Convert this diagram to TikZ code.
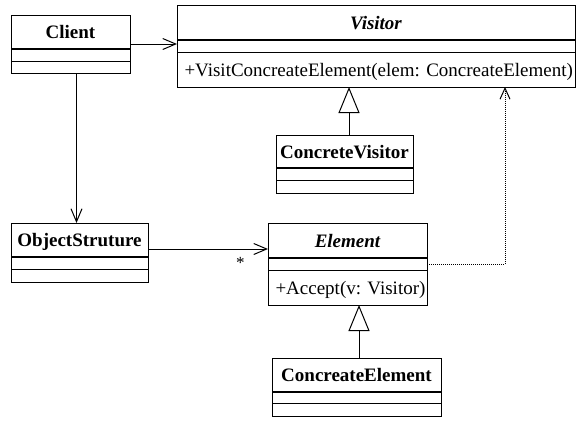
\documentclass[tikz,border=0pt]{standalone}
\usepackage{fontspec}
\setmainfont{Liberation Serif}
\usetikzlibrary{arrows.meta}

\begin{document}
\begin{tikzpicture}[x=1pt,y=-1pt,line width=1pt,
  classbox/.style={draw,rectangle,anchor=north west,inner sep=0pt,outer sep=0pt},
  classname/.style={anchor=base,inner sep=0pt,font=\fontsize{19}{22}\selectfont\bfseries},
  method/.style={anchor=base west,inner sep=0pt,font=\fontsize{19}{22}\selectfont},
  headline/.style={line width=1.5pt},
  assoc/.style={-{Straight Barb[length=13pt,width=11pt]}},
  depend/.style={dash pattern=on 1pt off 1pt,-{Straight Barb[length=11pt,width=10pt]}},
  inherit/.style={-{Triangle[length=26pt,width=21pt,fill=white]}}]
\useasboundingbox (0,0) rectangle (581,424);
% Client
\node[classbox,minimum width=119pt,minimum height=58pt] (client) at (11,15) {};
\node[classname] (client-name) at (70.5,38.5) {Client};
\draw[headline] (11,49) -- (130,49);
\draw (11,61) -- (130,61);
% Visitor
\node[classbox,minimum width=398pt,minimum height=82pt] (visitor) at (177,5) {};
\node[classname,font=\fontsize{19}{22}\selectfont\bfseries\itshape] (visitor-name) at (376,29) {Visitor};
\draw[headline] (177,40) -- (575,40);
\draw (177,52) -- (575,52);
\node[method] (visitor-op) at (184,76) {+VisitConcreateElement(elem: ConcreateElement)};
% ConcreteVisitor
\node[classbox,minimum width=137pt,minimum height=58pt] (cvisitor) at (276,135) {};
\node[classname] (cvisitor-name) at (344.5,158) {ConcreteVisitor};
\draw[headline] (276,168) -- (413,168);
\draw (276,180) -- (413,180);
% ObjectStruture
\node[classbox,minimum width=137pt,minimum height=59pt] (objs) at (11,223) {};
\node[classname] (objs-name) at (79.5,246.5) {ObjectStruture};
\draw[headline] (11,257) -- (148,257);
\draw (11,269) -- (148,269);
% Element
\node[classbox,minimum width=159pt,minimum height=82pt] (element) at (268,223) {};
\node[classname,font=\fontsize{19}{22}\selectfont\bfseries\itshape] (element-name) at (347.5,247) {Element};
\draw[headline] (268,258) -- (427,258);
\draw (268,270) -- (427,270);
\node[method] (element-op) at (275,294) {+Accept(v: Visitor)};
% ConcreateElement
\node[classbox,minimum width=169pt,minimum height=58pt] (celement) at (272,358) {};
\node[classname] (celement-name) at (356.5,381.5) {ConcreateElement};
\draw[headline] (272,392) -- (441,392);
\draw (272,403) -- (441,403);
% connectors
\draw[assoc] (client.east) -- (client.east -| visitor.west);
\draw[assoc] ([xshift=6pt]client.south) -- ([xshift=6pt]client.south |- objs.north);
\draw[assoc] ([yshift=3.5pt]objs.east) -- ([yshift=3.5pt]objs.east -| element.west)
  node[pos=0.77,below=5pt,font=\fontsize{17}{20}\selectfont] (mult) {*};
\coordinate (bend) at (505,264);
\draw[depend] (element.east) -- (bend) -- (bend |- visitor.south);
\draw[inherit] ([xshift=4.5pt]cvisitor.north) -- ([xshift=4.5pt]cvisitor.north |- visitor.south);
\draw[inherit] ([xshift=2.5pt]celement.north) -- ([xshift=2.5pt]celement.north |- element.south);
\end{tikzpicture}
\end{document}
